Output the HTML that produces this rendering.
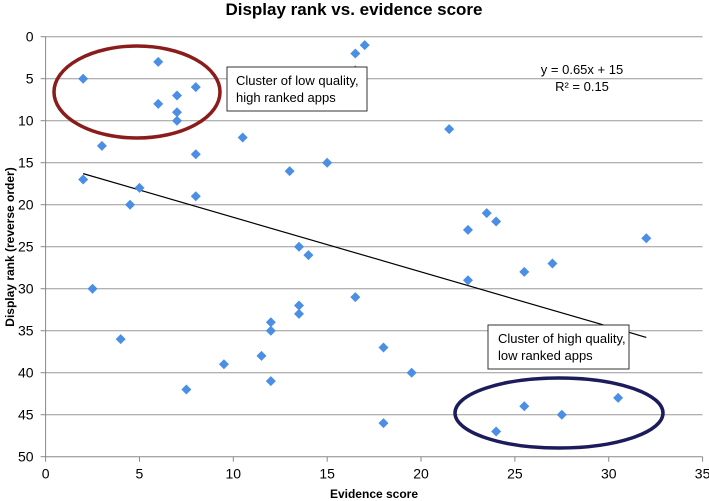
<!DOCTYPE html>
<html><head><meta charset="utf-8"><style>
body{margin:0;background:#fff}
svg{display:block;font-family:"Liberation Sans",sans-serif}
</style></head><body>
<svg id="chart" width="709" height="501" viewBox="0 0 709 501" xmlns="http://www.w3.org/2000/svg">
<text x="354" y="15" text-anchor="middle" font-weight="bold" font-size="17">Display rank vs. evidence score</text>
<g id="grid"></g>
<g id="axes"></g>
<line id="trend" stroke="#000" stroke-width="1.2"/>
<g id="points"></g>
<ellipse cx="137" cy="92" rx="83" ry="46" fill="none" stroke="#8b1c1c" stroke-width="3.5"/>
<ellipse cx="559" cy="413" rx="104" ry="35" fill="none" stroke="#1c1c5c" stroke-width="3.5"/>
<g>
<rect x="227" y="67" width="140" height="44" fill="#fff" stroke="#333" stroke-width="1"/>
<text x="236" y="85" font-size="13">Cluster of low quality,</text>
<text x="236" y="102" font-size="13">high ranked apps</text>
</g>
<g>
<rect x="488" y="325" width="141" height="44" fill="#fff" stroke="#333" stroke-width="1"/>
<text x="498" y="343" font-size="13">Cluster of high quality,</text>
<text x="498" y="360" font-size="13">low ranked apps</text>
</g>
<text x="582" y="74" text-anchor="middle" font-size="13">y = 0.65x + 15</text>
<text x="582" y="91" text-anchor="middle" font-size="13">R² = 0.15</text>
<text x="374" y="498" text-anchor="middle" font-weight="bold" font-size="12">Evidence score</text>
<text transform="translate(14,247) rotate(-90)" text-anchor="middle" font-weight="bold" font-size="12">Display rank (reverse order)</text>
</svg>
<script>
const xTicks=[0,5,10,15,20,25,30,35];
const yTicks=[0,5,10,15,20,25,30,35,40,45,50];
const evidenceScore=[2,6,6,7,7,7,8,3,8,10.5,2,5,4.5,8,13,15,16.5,17,16.5,21.5,13.5,14,2.5,4,7.5,9.5,11.5,12,12,12,13.5,13.5,16.5,18,19.5,18,22.5,23.5,24,32,22.5,25.5,27,25.5,24,27.5,30.5];
const displayRank=[5,3,8,7,9,10,6,13,14,12,17,18,20,19,16,15,2,1,4,11,25,26,30,36,42,39,38,34,35,41,32,33,31,37,40,46,23,21,22,24,29,28,27,44,47,45,43];
const trendSlope=0.65, trendIntercept=15, trendRange=[2,32];
const X0=45.6,X1=702.6,Y0=36.7,Y1=456.7;
const sx=v=>X0+(v-0)/(35-0)*(X1-X0);
const sy=v=>Y0+(v-0)/(50-0)*(Y1-Y0);
const NS="http://www.w3.org/2000/svg";
function mk(t,a,p){const e=document.createElementNS(NS,t);for(const k in a)e.setAttribute(k,a[k]);p.appendChild(e);return e;}
const grid=document.getElementById('grid'),axes=document.getElementById('axes'),pts=document.getElementById('points');
yTicks.forEach(t=>{
  if(t!==50){const g=mk('line',{x1:X0,x2:X1,y1:sy(t),y2:sy(t),stroke:'#999','stroke-width':1},grid);
  
  }
  mk('line',{x1:X0-5,x2:X0,y1:sy(t),y2:sy(t),stroke:'#888'},axes);
  const l=mk('text',{x:X0-12,y:sy(t)+5,'text-anchor':'end','font-size':14},axes);
  l.textContent=t;
  
  
});
xTicks.forEach(t=>{
  mk('line',{x1:sx(t),x2:sx(t),y1:Y1,y2:Y1+5,stroke:'#888'},axes);
  const l=mk('text',{x:sx(t),y:Y1+22,'text-anchor':'middle','font-size':14},axes);
  l.textContent=t;
  
  
});
const ya=mk('line',{x1:X0,x2:X0,y1:Y0,y2:Y1,stroke:'#888'},axes);


const xa=mk('line',{x1:X0,x2:X1,y1:Y1,y2:Y1,stroke:'#888'},axes);


evidenceScore.forEach((v,i)=>{
  const cx=sx(v),cy=sy(displayRank[i]),r=5;
  const p=mk('polygon',{points:`${cx},${cy-r} ${cx+r},${cy} ${cx},${cy+r} ${cx-r},${cy}`,fill:'#4a8ee6'},pts);
  
  
});
const tr=document.getElementById('trend');
tr.setAttribute('x1',sx(trendRange[0]));tr.setAttribute('y1',sy(trendSlope*trendRange[0]+trendIntercept));
tr.setAttribute('x2',sx(trendRange[1]));tr.setAttribute('y2',sy(trendSlope*trendRange[1]+trendIntercept));
</script>
</body></html>
